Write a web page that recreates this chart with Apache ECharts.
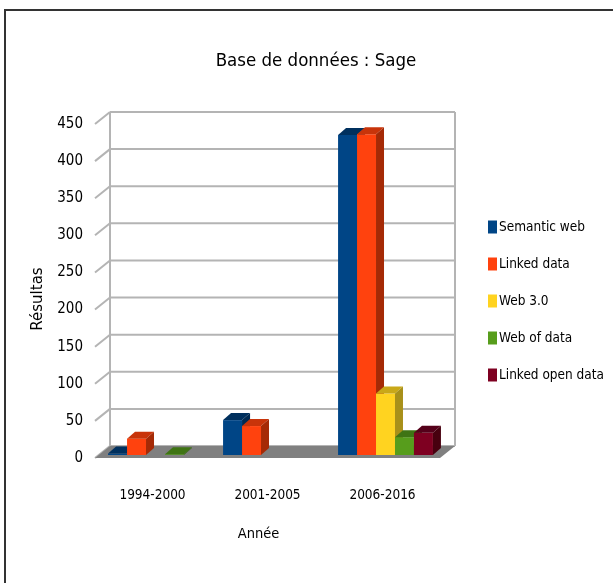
<!DOCTYPE html>
<html>
<head>
<meta charset="utf-8">
<script src="https://cdn.jsdelivr.net/npm/echarts@6/dist/echarts.min.js"></script>
<style>
html,body{margin:0;padding:0;background:#fff;}
#main{width:613px;height:583px;}
</style>
</head>
<body>
<div id="main"></div>
<script>
const categories = ['1994-2000', '2001-2005', '2006-2016'];
const seriesNames = ['Semantic web', 'Linked data', 'Web 3.0', 'Web of data', 'Linked open data'];
const semanticWeb = [2, 47, 431];
const linkedData = [22, 39, 432];
const web30 = [0, 0, 83];
const webOfData = [1, 0, 24];
const linkedOpenData = [0, 0, 30];
const yTicks = [0, 50, 100, 150, 200, 250, 300, 350, 400, 450];

const seriesValues = [semanticWeb, linkedData, web30, webOfData, linkedOpenData];
const frontColors = ['#004586', '#ff420e', '#ffd320', '#579d1c', '#7e0021'];
const topColors = ['#00305e', '#c8340a', '#c9a818', '#3f7414', '#55001a'];
const sideColors = ['#002a52', '#a52a06', '#a8901a', '#356412', '#48000f'];

const FONT = "'Liberation Sans Narrow', 'DejaVu Sans Condensed', 'Liberation Sans', sans-serif";
const WALL_DX = 15, WALL_DY = -12;
const BAR_DX0 = 3, BAR_DY0 = -3, BAR_DX = 8, BAR_DY = -7;

function renderBar(params, api) {
  const cat = api.value(0), v = api.value(1);
  if (!v) return null;
  const base = api.coord([cat, 0]);
  const top = api.coord([cat, v]);
  const band = api.size([1, 0])[0];
  const bw = band * 0.165;
  const i = params.seriesIndex - 2;
  const x0 = base[0] - 2.5 * bw + i * bw + BAR_DX0;
  const x1 = x0 + bw;
  const yb = base[1] + BAR_DY0;
  const yt = top[1] + BAR_DY0;
  return {
    type: 'group',
    children: [
      { type: 'rect', shape: { x: x0, y: yt, width: bw, height: yb - yt }, style: { fill: frontColors[i] } },
      { type: 'polygon', shape: { points: [[x0, yt], [x1, yt], [x1 + BAR_DX, yt + BAR_DY], [x0 + BAR_DX, yt + BAR_DY]] }, style: { fill: topColors[i] } },
      { type: 'polygon', shape: { points: [[x1, yt], [x1 + BAR_DX, yt + BAR_DY], [x1 + BAR_DX, yb + BAR_DY], [x1, yb]] }, style: { fill: sideColors[i] } }
    ]
  };
}

function renderWall(params, api) {
  const cs = params.coordSys;
  const v = api.value(0);
  const p = api.coord([0, v]);
  const y = p[1];
  const xl = cs.x, xr = cs.x + cs.width;
  const lineStyle = { stroke: '#b4b4b4', lineWidth: 2, fill: null };
  const children = [
    { type: 'line', shape: { x1: xl, y1: y, x2: xl + WALL_DX, y2: y + WALL_DY }, style: lineStyle },
    { type: 'line', shape: { x1: xl + WALL_DX, y1: y + WALL_DY, x2: xr + WALL_DX, y2: y + WALL_DY }, style: lineStyle }
  ];
  if (params.dataIndex === 0) {
    const yTop = cs.y + WALL_DY;
    children.push({ type: 'line', shape: { x1: xl + WALL_DX, y1: yTop, x2: xl + WALL_DX, y2: y + WALL_DY }, style: lineStyle });
    children.push({ type: 'line', shape: { x1: xr + WALL_DX, y1: yTop, x2: xr + WALL_DX, y2: y + WALL_DY }, style: lineStyle });
  }
  return { type: 'group', children: children };
}

function renderFloor(params, api) {
  const cs = params.coordSys;
  const p = api.coord([0, 0]);
  const y = p[1];
  const xl = cs.x, xr = cs.x + cs.width;
  return {
    type: 'polygon',
    shape: { points: [[xl, y], [xr, y], [xr + WALL_DX, y + WALL_DY], [xl + WALL_DX, y + WALL_DY]] },
    style: { fill: '#808080' }
  };
}

const barSeries = seriesNames.map(function (name, i) {
  return {
    name: name,
    type: 'custom',
    renderItem: renderBar,
    itemStyle: { color: frontColors[i] },
    encode: { x: 0, y: 1 },
    data: categories.map(function (c, k) { return [k, seriesValues[i][k]]; }),
    z: 3
  };
});

const chart = echarts.init(document.getElementById('main'));
chart.setOption({
  animation: false,
  backgroundColor: '#ffffff',
  title: {
    text: 'Base de données : Sage',
    left: 311, top: 47, textAlign: 'center',
    textStyle: { fontFamily: FONT, fontSize: 18.5, fontWeight: 'normal', color: '#000' }
  },
  legend: {
    orient: 'vertical',
    left: 483, top: 215,
    data: seriesNames,
    icon: 'rect',
    itemWidth: 9, itemHeight: 13,
    itemGap: 23,
    textStyle: { fontFamily: FONT, fontSize: 13.5, color: '#000', padding: [0, 0, 0, -3] }
  },
  grid: { left: 95, right: 173, top: 124, bottom: 125 },
  xAxis: {
    type: 'category',
    data: categories,
    axisLine: { show: false },
    axisTick: { show: false },
    axisLabel: { fontFamily: FONT, fontSize: 13.5, color: '#000', margin: 30 },
    name: 'Année',
    nameLocation: 'middle',
    nameGap: 69,
    nameTextStyle: { fontFamily: FONT, fontSize: 14.5, color: '#000', padding: [0, 18, 0, 0] }
  },
  yAxis: {
    type: 'value',
    min: 0, max: 450, interval: 50,
    axisLine: { show: false },
    axisTick: { show: false },
    splitLine: { show: false },
    axisLabel: { fontFamily: FONT, fontSize: 15, color: '#000', margin: 12 }
  },
  graphic: [
    { type: 'rect', shape: { x: 5, y: 10, width: 700, height: 700 }, style: { fill: null, stroke: '#333', lineWidth: 2 }, silent: true, z: 100 },
    { type: 'text', x: 38, y: 299, rotation: Math.PI / 2, style: { text: 'Résultas', font: "15px 'DejaVu Sans', sans-serif", fill: '#000', textAlign: 'center', textVerticalAlign: 'middle' }, silent: true }
  ],
  series: [
    { type: 'custom', name: '_walls', renderItem: renderWall, data: yTicks.map(function (t) { return [t]; }), encode: { y: 0 }, z: 1, silent: true },
    { type: 'custom', name: '_floor', renderItem: renderFloor, data: [[0]], encode: { y: 0 }, z: 2, silent: true }
  ].concat(barSeries)
});
</script>
</body>
</html>
